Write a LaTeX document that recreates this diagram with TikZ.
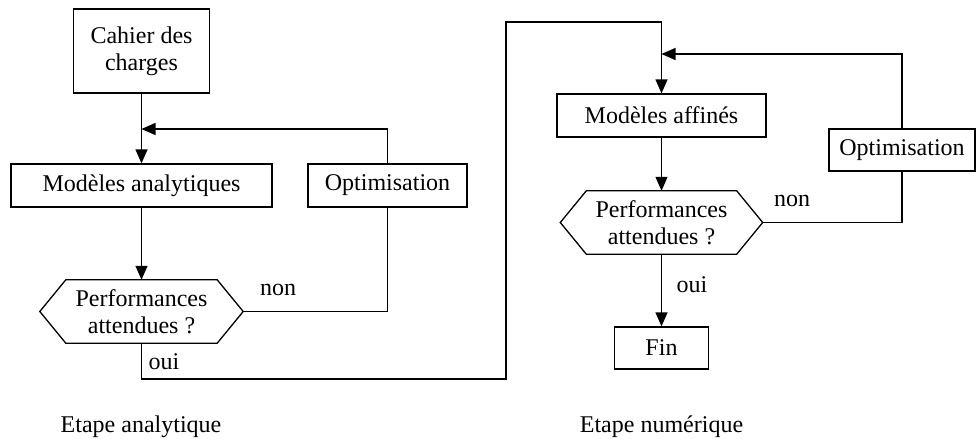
\documentclass[tikz,border=0pt]{standalone}
\usepackage{fontspec}
\setmainfont{Liberation Serif}
\usetikzlibrary{arrows.meta,calc}
\begin{document}
\begin{tikzpicture}[x=1pt,y=-1pt,
  every node/.style={font=\fontsize{24}{27}\selectfont, inner sep=0pt},
  box/.style={draw, line width=1.3pt, align=center},
  hexnode/.style={align=center, minimum width=203pt, minimum height=63pt},
  conn/.style={line width=1.3pt},
  arr/.style={line width=1.3pt, -{Triangle[length=14pt,width=12pt]}},
  lbl/.style={}
]
\useasboundingbox (0,0) rectangle (978,439);
% left column
\node[box, minimum width=136pt, minimum height=84pt] (cahier) at (141.5,51) {Cahier des\\charges};
\node[box, minimum width=261pt, minimum height=43pt] (modA) at (141.5,185.5) {Modèles analytiques};
\node[box, minimum width=159pt, minimum height=43pt] (optA) at (387.5,185.5) {Optimisation};
\node[hexnode] (hexA) at (141.5,311.5) {Performances\\attendues ?};
\draw[conn] (hexA.west) -- ([xshift=26pt]hexA.north west) -- ([xshift=-26pt]hexA.north east) -- (hexA.east) -- ([xshift=-26pt]hexA.south east) -- ([xshift=26pt]hexA.south west) -- cycle;
\coordinate (jA) at (141.5,129);
% right column
\node[box, minimum width=209pt, minimum height=43pt] (modB) at (661.5,115.5) {Modèles affinés};
\node[box, minimum width=146pt, minimum height=42pt] (optB) at (902,150) {Optimisation};
\node[hexnode, minimum width=202pt] (hexB) at (661.5,222.5) {Performances\\attendues ?};
\draw[conn] (hexB.west) -- ([xshift=26pt]hexB.north west) -- ([xshift=-26pt]hexB.north east) -- (hexB.east) -- ([xshift=-26pt]hexB.south east) -- ([xshift=26pt]hexB.south west) -- cycle;
\node[box, minimum width=94pt, minimum height=42pt] (fin) at (661.5,348) {Fin};
\coordinate (jB) at (661.5,54);
\coordinate (c1) at (506,379);
\coordinate (c2) at (506,22);
\coordinate (c3) at (661.5,22);
% connectors
\draw[arr] (cahier.south) -- (modA.north);
\draw[arr] (optA.north) |- (jA);
\draw[arr] (modA.south) -- (hexA.north);
\draw[conn] (hexA.east) -| (optA.south);
\draw[arr] (hexA.south) |- (c1) -- (c2) -- (c3) -- (modB.north);
\draw[arr] (optB.north) |- (jB);
\draw[arr] (modB.south) -- (hexB.north);
\draw[conn] (hexB.east) -| (optB.south);
\draw[arr] (hexB.south) -- (fin.north);
% labels
\node (nonA) at (278,290) {non};
\node (ouiA) at (164,362) {oui};
\node (nonB) at (792,201) {non};
\node (ouiB) at (692,285) {oui};
\node (etA) at (141,427) {Etape analytique};
\node (etB) at (661.5,427) {Etape numérique};
\end{tikzpicture}
\end{document}
